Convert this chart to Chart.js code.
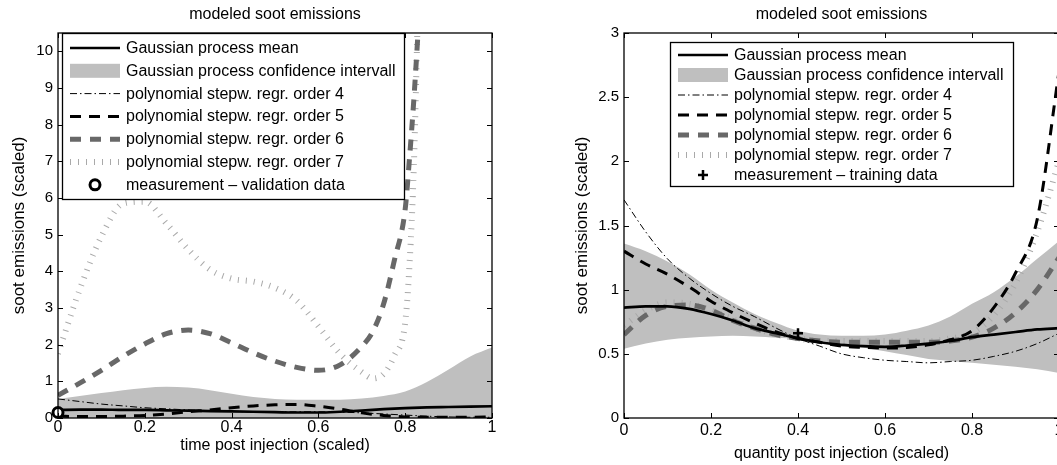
<!DOCTYPE html>
<html><head><meta charset="utf-8">
<script src="https://cdn.jsdelivr.net/npm/chart.js@4/dist/chart.umd.min.js"></script>
<style>
html,body{margin:0;padding:0;background:#fff;overflow:hidden;width:1057px;height:465px;}
#cl{position:absolute;left:0;top:0;}
#cr{position:absolute;left:560px;top:0;}
</style></head><body>
<canvas id="cl" width="500" height="465"></canvas>
<canvas id="cr" width="510" height="465"></canvas>
<script>
// ---------------- data ----------------
const chartTitle = 'modeled soot emissions';
const yTitle = 'soot emissions (scaled)';
const leftXTitle = 'time post injection (scaled)';
const rightXTitle = 'quantity post injection (scaled)';
const xTickValues = [0, 0.2, 0.4, 0.6, 0.8, 1];
const leftYTickValues = [0, 1, 2, 3, 4, 5, 6, 7, 8, 9, 10];
const rightYTickValues = [0, 0.5, 1, 1.5, 2, 2.5, 3];

const legendLabelsLeft = ['Gaussian process mean', 'Gaussian process confidence intervall',
  'polynomial stepw. regr. order 4', 'polynomial stepw. regr. order 5',
  'polynomial stepw. regr. order 6', 'polynomial stepw. regr. order 7',
  'measurement \u2013 validation data'];
const legendLabelsRight = ['Gaussian process mean', 'Gaussian process confidence intervall',
  'polynomial stepw. regr. order 4', 'polynomial stepw. regr. order 5',
  'polynomial stepw. regr. order 6', 'polynomial stepw. regr. order 7',
  'measurement \u2013 training data'];

// left subplot (time post injection)
const leftX = [0,0.05,0.1,0.15,0.2,0.25,0.3,0.35,0.4,0.45,0.5,0.55,0.6,0.65,0.7,0.75,0.8,0.85,0.9,0.95,1];
const leftMean    = [0.22,0.23,0.23,0.22,0.22,0.21,0.2,0.19,0.18,0.17,0.16,0.15,0.15,0.17,0.2,0.24,0.27,0.29,0.3,0.31,0.32];
const leftCIUpper = [0.52,0.6,0.68,0.76,0.82,0.85,0.83,0.76,0.66,0.57,0.52,0.5,0.5,0.5,0.53,0.6,0.72,0.98,1.32,1.68,1.92];
const leftCILower = [-0.08,-0.1,-0.12,-0.14,-0.15,-0.16,-0.15,-0.14,-0.13,-0.12,-0.12,-0.12,-0.14,-0.16,-0.18,-0.22,-0.3,-0.45,-0.7,-1.0,-1.3];
const leftP4 = [0.52,0.45,0.38,0.33,0.28,0.25,0.22,0.2,0.18,0.17,0.17,0.17,0.17,0.16,0.14,0.11,0.08,0.05,0.03,0.02,0.02];
const leftP5 = [0.05,0.04,0.04,0.05,0.07,0.11,0.17,0.22,0.28,0.33,0.36,0.37,0.32,0.24,0.14,0.07,0.03,0.02,0.02,0.02,0.03];
const leftSteepX = [0,0.05,0.1,0.15,0.2,0.25,0.3,0.35,0.4,0.45,0.5,0.55,0.6,0.65,0.7,0.725,0.75,0.775,0.8,0.81,0.82,0.83,0.84];
const leftP6 = [0.62,0.95,1.3,1.68,2.02,2.3,2.4,2.3,2.05,1.78,1.55,1.38,1.3,1.45,1.95,2.35,3.1,4.3,5.7,7.1,8.7,10.6,12.6];
const leftP7 = [1.75,3.5,4.95,5.85,5.9,5.3,4.6,4.05,3.8,3.72,3.55,3.2,2.5,1.75,1.25,1.08,1.2,1.7,2.6,4.2,6.9,11.5,16];
const leftMeasX = [0];
const leftMeasY = [0.15];

// right subplot (quantity post injection)
const rightX = [0,0.05,0.1,0.15,0.2,0.25,0.3,0.35,0.4,0.45,0.5,0.55,0.6,0.65,0.7,0.75,0.8,0.85,0.9,0.95,1];
const rightMean    = [0.86,0.87,0.87,0.85,0.81,0.76,0.7,0.66,0.62,0.59,0.57,0.56,0.555,0.565,0.58,0.6,0.63,0.65,0.67,0.69,0.7];
const rightCIUpper = [1.36,1.3,1.22,1.12,1.0,0.9,0.81,0.74,0.68,0.65,0.64,0.64,0.65,0.68,0.72,0.79,0.89,0.98,1.1,1.24,1.38];
const rightCILower = [0.54,0.58,0.61,0.625,0.635,0.64,0.635,0.625,0.615,0.6,0.58,0.55,0.52,0.49,0.46,0.445,0.43,0.415,0.4,0.38,0.35];
const rightP4 = [1.7,1.45,1.24,1.09,0.97,0.87,0.79,0.7,0.62,0.56,0.5,0.47,0.45,0.44,0.43,0.44,0.45,0.48,0.52,0.58,0.66];
const rightP5 = [1.3,1.2,1.12,1.02,0.91,0.82,0.74,0.67,0.62,0.59,0.56,0.55,0.545,0.55,0.57,0.61,0.68,0.86,1.13,1.55,2.7];
const rightP6 = [0.65,0.8,0.87,0.88,0.84,0.76,0.7,0.65,0.62,0.6,0.59,0.59,0.59,0.59,0.59,0.6,0.63,0.7,0.82,1.0,1.25];
const rightP7 = [0.72,0.84,0.9,0.89,0.84,0.77,0.7,0.65,0.62,0.6,0.6,0.6,0.6,0.6,0.6,0.62,0.66,0.8,1.05,1.45,2.0];
const rightMeasX = [0.4];
const rightMeasY = [0.66];

// ---------------- helpers ----------------
const FONT = '"Liberation Sans", Arial, Helvetica, sans-serif';
const pts = (xs, ys) => xs.map((x, i) => ({x: x, y: ys[i]}));
const fmt = v => String(Number(v.toFixed(2)));

function buildDatasets(X, mean, up, lo, p4, p5, p6X, p6, p7X, p7, mX, mY, markerStyle) {
  const lineBase = {pointRadius: 0, fill: false, cubicInterpolationMode: 'monotone', clip: 0, borderCapStyle: 'butt'};
  return [
    Object.assign({label: 'ci-lower', data: pts(X, lo), borderWidth: 0, borderColor: 'rgba(0,0,0,0)', order: 9}, lineBase),
    Object.assign({}, lineBase, {label: 'ci-upper', data: pts(X, up), borderWidth: 0, borderColor: 'rgba(0,0,0,0)', backgroundColor: '#bfbfbf', fill: '-1', order: 8}),
    Object.assign({label: 'order7', data: pts(p7X, p7), borderColor: '#a9a9a9', borderWidth: 6, borderDash: [1, 7], order: 7}, lineBase),
    Object.assign({label: 'order6', data: pts(p6X, p6), borderColor: '#686868', borderWidth: 5, borderDash: [11, 9], order: 6}, lineBase),
    Object.assign({label: 'mean', data: pts(X, mean), borderColor: '#000', borderWidth: 2.7, order: 5}, lineBase),
    Object.assign({label: 'order4', data: pts(X, p4), borderColor: '#000', borderWidth: 1, borderDash: [7, 3, 1.5, 3], order: 4}, lineBase),
    Object.assign({label: 'order5', data: pts(X, p5), borderColor: '#000', borderWidth: 3, borderDash: [11, 8], order: 3}, lineBase),
    {label: 'meas', data: pts(mX, mY), showLine: false, pointStyle: markerStyle, pointRadius: 5,
     pointBorderWidth: markerStyle === 'circle' ? 3 : 2.5, pointBorderColor: '#000', pointBackgroundColor: '#fff', borderColor: '#000', backgroundColor: '#fff', clip: false, order: 0}
  ];
}

const boxPlugin = {
  id: 'axesBox',
  afterDatasetsDraw(chart) {
    const {ctx, chartArea: a, scales: {x, y}} = chart;
    ctx.save();
    ctx.strokeStyle = '#000';
    ctx.lineWidth = 1.3;
    ctx.strokeRect(a.left, a.top, a.right - a.left, a.bottom - a.top);
    ctx.beginPath();
    x.ticks.forEach(t => {
      const p = Math.round(x.getPixelForValue(t.value)) + 0.5;
      ctx.moveTo(p, a.bottom); ctx.lineTo(p, a.bottom - 5);
      ctx.moveTo(p, a.top); ctx.lineTo(p, a.top + 5);
    });
    y.ticks.forEach(t => {
      const p = Math.round(y.getPixelForValue(t.value)) + 0.5;
      ctx.moveTo(a.left, p); ctx.lineTo(a.left + 5, p);
      ctx.moveTo(a.right, p); ctx.lineTo(a.right - 5, p);
    });
    ctx.lineWidth = 1;
    ctx.stroke();
    ctx.restore();
  }
};

const legendPlugin = {
  id: 'boxLegend',
  afterDraw(chart, args, o) {
    const {ctx, chartArea: a} = chart;
    const ds = chart.data.datasets;
    const L = Math.round(a.left + o.dx), T = Math.round(a.top + o.dy);
    ctx.save();
    ctx.fillStyle = '#fff';
    ctx.fillRect(L, T, o.w, o.h);
    ctx.strokeStyle = '#000';
    ctx.lineWidth = 1.3;
    ctx.strokeRect(L + 0.5, T + 0.5, o.w, o.h);
    const items = [
      {kind: 'line', ds: 4}, {kind: 'fill', ds: 1}, {kind: 'line', ds: 5}, {kind: 'line', ds: 6},
      {kind: 'line', ds: 3}, {kind: 'line', ds: 2}, {kind: 'marker', ds: 7}
    ];
    const x0 = L + 8, x1 = L + 58;
    items.forEach((it, i) => {
      const d = ds[it.ds];
      const cy = T + o.first + i * o.row;
      if (it.kind === 'line') {
        ctx.save();
        ctx.setLineDash(d.borderDash || []);
        ctx.lineWidth = d.borderWidth;
        ctx.strokeStyle = d.borderColor;
        ctx.lineCap = 'butt';
        ctx.beginPath(); ctx.moveTo(x0, cy); ctx.lineTo(x1, cy); ctx.stroke();
        ctx.restore();
      } else if (it.kind === 'fill') {
        ctx.fillStyle = d.backgroundColor;
        ctx.fillRect(x0, cy - 7, x1 - x0, 14);
      } else {
        ctx.save();
        ctx.lineWidth = d.pointBorderWidth; ctx.strokeStyle = '#000'; ctx.fillStyle = '#fff';
        ctx.beginPath();
        const r = d.pointRadius, cx = (x0 + x1) / 2;
        if (d.pointStyle === 'circle') {
          ctx.arc(cx, cy, r, 0, Math.PI * 2); ctx.fill(); ctx.stroke();
        } else {
          ctx.moveTo(cx - r, cy); ctx.lineTo(cx + r, cy); ctx.moveTo(cx, cy - r); ctx.lineTo(cx, cy + r); ctx.stroke();
        }
        ctx.restore();
      }
      ctx.fillStyle = '#000';
      ctx.font = o.fontSize + 'px ' + FONT;
      ctx.textBaseline = 'middle';
      ctx.textAlign = 'left';
      ctx.fillText(o.labels[i], L + 64, cy + 0.5);
    });
    ctx.restore();
  }
};

function makeChart(id, s) {
  return new Chart(document.getElementById(id), {
    type: 'line',
    data: {datasets: s.datasets},
    options: {
      responsive: false,
      animation: false,
      events: [],
      layout: {padding: {left: 0, right: s.padRight, top: 0, bottom: 0}},
      scales: {
        x: {
          type: 'linear', min: 0, max: 1,
          afterBuildTicks: sc => { sc.ticks = xTickValues.map(v => ({value: v})); },
          afterFit: sc => { sc.height = s.xAxisHeight; },
          grid: {display: false, drawTicks: false},
          border: {display: false},
          ticks: {color: '#000', font: {family: FONT, size: 16}, padding: s.xTickPad, maxRotation: 0, callback: v => fmt(v)},
          title: {display: true, text: s.xTitle, color: '#000', font: {family: FONT, size: 16}, padding: {top: 0, bottom: s.xTitlePadBottom}}
        },
        y: {
          type: 'linear', min: 0, max: s.yMax,
          afterBuildTicks: sc => { sc.ticks = s.yTicks.map(v => ({value: v})); },
          afterFit: sc => { sc.width = s.yAxisWidth; },
          grid: {display: false, drawTicks: false},
          border: {display: false},
          ticks: {color: '#000', font: {family: FONT, size: 15}, padding: 5, callback: v => fmt(v)},
          title: {display: true, text: yTitle, color: '#000', font: {family: FONT, size: 17}, padding: {top: s.yTitlePadTop, bottom: 0}}
        }
      },
      plugins: {
        legend: {display: false},
        tooltip: {enabled: false},
        title: {display: true, text: chartTitle, fullSize: false, color: '#000', font: {family: FONT, size: 16, weight: 'normal'}, padding: {top: 5, bottom: 8.8}},
        boxLegend: s.legend
      }
    },
    plugins: [boxPlugin, legendPlugin]
  });
}

makeChart('cl', {
  datasets: buildDatasets(leftX, leftMean, leftCIUpper, leftCILower, leftP4, leftP5, leftSteepX, leftP6, leftSteepX, leftP7, leftMeasX, leftMeasY, 'circle'),
  yMax: 10.5, yTicks: leftYTickValues, padRight: 8, xAxisHeight: 47, yAxisWidth: 58,
  xTickPad: 0, xTitle: leftXTitle, xTitlePadBottom: 10, yTitlePadTop: 9,
  legend: {dx: 4, dy: 0, w: 342, h: 166, first: 15, row: 22.8, fontSize: 16, labels: legendLabelsLeft}
});

makeChart('cr', {
  datasets: buildDatasets(rightX, rightMean, rightCIUpper, rightCILower, rightP4, rightP5, rightX, rightP6, rightX, rightP7, rightMeasX, rightMeasY, 'cross'),
  yMax: 3, yTicks: rightYTickValues, padRight: 11, xAxisHeight: 47, yAxisWidth: 64,
  xTickPad: 3, xTitle: rightXTitle, xTitlePadBottom: 2, yTitlePadTop: 12,
  legend: {dx: 46, dy: 9, w: 343, h: 144, first: 13, row: 20, fontSize: 16, labels: legendLabelsRight}
});
</script>
</body></html>
